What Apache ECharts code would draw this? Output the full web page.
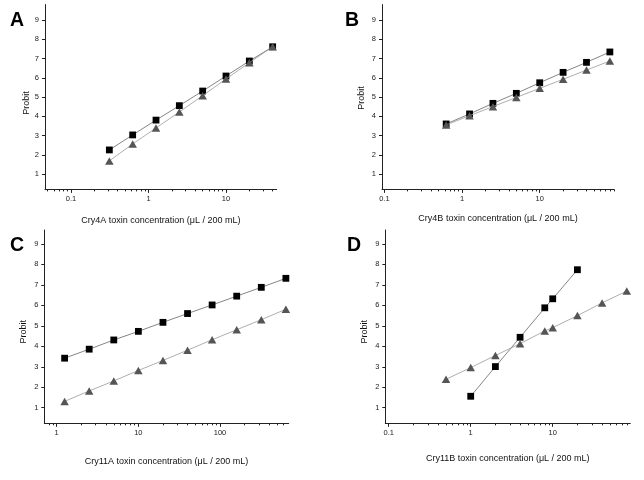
<!DOCTYPE html>
<html>
<head>
<meta charset="utf-8">
<script src="https://cdn.jsdelivr.net/npm/echarts@6/dist/echarts.min.js"></script>
<style>
html,body{margin:0;padding:0;background:#fff;}
#chart{width:644px;height:480px;}
</style>
</head>
<body>
<div id="chart"></div>
<script>
// ---- Data ----
const panelLetters = ['A', 'B', 'C', 'D'];
const xNames = [
  'Cry4A toxin concentration (\u03bcL / 200 mL)',
  'Cry4B toxin concentration (\u03bcL / 200 mL)',
  'Cry11A toxin concentration (\u03bcL / 200 mL)',
  'Cry11B toxin concentration (\u03bcL / 200 mL)'
];
const yName = 'Probit';
const yTicks = [1, 2, 3, 4, 5, 6, 7, 8, 9];
const xMajorA = [0.1, 1, 10];
const xMajorB = [0.1, 1, 10];
const xMajorC = [1, 10, 100];
const xMajorD = [0.1, 1, 10];

// Panel A
const concA = [0.3125, 0.625, 1.25, 2.5, 5, 10, 20, 40];
const squaresA = [2.25, 3.03, 3.80, 4.55, 5.31, 6.09, 6.87, 7.61];
const trianglesA = [1.68, 2.56, 3.39, 4.22, 5.07, 5.94, 6.78, 7.61];
// Panel B
const concB = [0.625, 1.25, 2.5, 5, 10, 20, 40, 80];
const squaresB = [3.60, 4.12, 4.67, 5.19, 5.74, 6.28, 6.80, 7.34];
const trianglesB = [3.55, 4.03, 4.50, 4.98, 5.45, 5.92, 6.40, 6.87];
// Panel C
const concC = [1.25, 2.5, 5, 10, 20, 40, 80, 160, 320, 640];
const squaresC = [3.42, 3.86, 4.31, 4.73, 5.17, 5.60, 6.02, 6.45, 6.88, 7.32];
const trianglesC = [1.31, 1.82, 2.31, 2.82, 3.31, 3.81, 4.32, 4.81, 5.30, 5.81];
// Panel D
const concDsq = [1, 2, 4, 8, 10, 20];
const squaresD = [1.56, 3.01, 4.44, 5.88, 6.32, 7.74];
const concDtri = [0.5, 1, 2, 4, 8, 10, 20, 40, 80];
const trianglesD = [2.39, 2.96, 3.55, 4.13, 4.75, 4.91, 5.50, 6.12, 6.70];

// ---- Layout ----
const grids = [
  {left: 45, top: 4.6, width: 231.7, height: 184.8},
  {left: 382, top: 4.6, width: 232, height: 184.8},
  {left: 44.3, top: 230, width: 244.4, height: 193.3},
  {left: 385.3, top: 230, width: 245, height: 193.3}
];
const xRanges = [[0.0462, 45.1], [0.0933, 90.4], [0.705, 693], [0.0909, 88.3]];
const yRanges = [[0.2, 9.8], [0.2, 9.8], [0.24, 9.68], [0.24, 9.68]];
const xMajors = [xMajorA, xMajorB, xMajorC, xMajorD];
const letterPos = [[10, 20], [345, 20], [10, 244.5], [347, 244.5]];
const xNameGaps = [27, 25, 33.5, 30.5];
const yNameGaps = [13, 16, 16, 16];
const yNamePads = [[0, 12, 0, 0], [0, 2, 0, 0], [0, 10, 0, 0], [0, 10, 0, 0]];

function minorTicks(range) {
  const out = [];
  for (let e = -3; e <= 4; e++) {
    for (let m = 2; m <= 9; m++) {
      const v = +(m * Math.pow(10, e)).toPrecision(6);
      if (v >= range[0] && v <= range[1]) out.push(v);
    }
  }
  return out;
}

const font = 'Liberation Sans, Arial, sans-serif';
const axisColor = '#222';

const xAxes = [], yAxes = [];
grids.forEach((g, i) => {
  xAxes.push({
    type: 'log', logBase: 10, gridIndex: i, position: 'bottom',
    min: xRanges[i][0], max: xRanges[i][1],
    name: xNames[i], nameLocation: 'middle', nameGap: xNameGaps[i],
    nameTextStyle: {fontFamily: font, fontSize: 9, color: '#111'},
    axisLine: {show: true, lineStyle: {color: axisColor, width: 1}},
    axisTick: {show: true, length: 3.5, customValues: xMajors[i], lineStyle: {color: axisColor, width: 1}},
    axisLabel: {show: true, customValues: xMajors[i], margin: 6, fontFamily: font, fontSize: 7.5, color: '#222'},
    splitLine: {show: false}
  });
  xAxes.push({
    type: 'log', logBase: 10, gridIndex: i, position: 'bottom',
    min: xRanges[i][0], max: xRanges[i][1],
    axisLine: {show: false},
    axisTick: {show: true, length: 2, customValues: minorTicks(xRanges[i]), lineStyle: {color: axisColor, width: 1}},
    axisLabel: {show: false},
    splitLine: {show: false}
  });
  yAxes.push({
    type: 'value', gridIndex: i,
    min: yRanges[i][0], max: yRanges[i][1],
    name: yName, nameLocation: 'middle', nameGap: yNameGaps[i],
    nameTextStyle: {fontFamily: font, fontSize: 9, color: '#111', padding: yNamePads[i]},
    axisLine: {show: true, lineStyle: {color: axisColor, width: 1}},
    axisTick: {show: true, length: 3, customValues: yTicks, lineStyle: {color: axisColor, width: 1}},
    axisLabel: {show: true, customValues: yTicks, margin: 6, fontFamily: font, fontSize: 7.5, color: '#222'},
    splitLine: {show: false}
  });
});

function zip(xs, ys) { return xs.map((x, k) => [x, ys[k]]); }

const panelData = [
  [zip(concA, squaresA), zip(concA, trianglesA)],
  [zip(concB, squaresB), zip(concB, trianglesB)],
  [zip(concC, squaresC), zip(concC, trianglesC)],
  [zip(concDsq, squaresD), zip(concDtri, trianglesD)]
];

const series = [];
panelData.forEach((pair, i) => {
  series.push({
    type: 'line', xAxisIndex: 2 * i + 1, yAxisIndex: i, data: pair[1],
    symbol: 'triangle', symbolSize: [8.5, 7.5], z: 3,
    itemStyle: {color: '#555'},
    lineStyle: {color: '#999', width: 0.8},
    animation: false, silent: true
  });
  series.push({
    type: 'line', xAxisIndex: 2 * i + 1, yAxisIndex: i, data: pair[0],
    symbol: 'rect', symbolSize: 6.8, z: 2,
    itemStyle: {color: '#000'},
    lineStyle: {color: '#666', width: 0.8},
    animation: false, silent: true
  });
});

const graphics = panelLetters.map((t, i) => ({
  type: 'text', left: letterPos[i][0], top: letterPos[i][1] - 9,
  style: {text: t, font: 'bold 19.5px ' + font, fill: '#000'}
}));

const chart = echarts.init(document.getElementById('chart'), null, {renderer: 'canvas'});
chart.setOption({
  animation: false,
  backgroundColor: '#fff',
  grid: grids.map(g => Object.assign({containLabel: false}, g)),
  xAxis: xAxes,
  yAxis: yAxes,
  series: series,
  graphic: graphics
});
</script>
</body>
</html>
